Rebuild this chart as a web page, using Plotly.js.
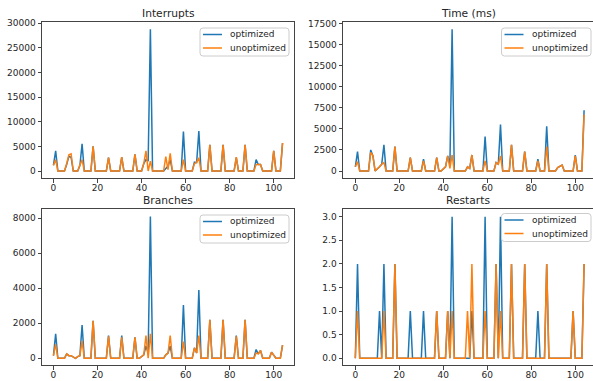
<!DOCTYPE html>
<html>
<head>
<meta charset="utf-8">
<script src="https://cdn.plot.ly/plotly-3.0.1.min.js"></script>
<style>html,body{margin:0;padding:0;background:#fff;}#chart{width:593px;height:381px;}</style>
</head>
<body>
<div id="chart"></div>
<script>
// ---- data (index 0..104 is implicit) ----
const panelTitles = ["Interrupts", "Time (ms)", "Branches", "Restarts"];
const seriesNames = ["optimized", "unoptimized"];

const interruptsOpt = [1200,4100,0,0,0,0,1300,3000,2800,0, 0,0,1100,5500,0,0,0,0,5000,0, 0,0,0,0,0,2700,0,0,0,0, 0,2800,0,0,0,0,0,3400,0,0, 0,1500,2300,2000,28800,0,0,0,0,0, 0,500,1000,2300,0,0,0,0,0,8000, 0,0,0,0,1800,1700,8100,0,0,0, 0,5300,0,0,0,0,0,5300,0,0, 0,0,0,2700,0,0,0,5300,0,0, 0,0,2300,1300,1300,0,0,0,0,0, 4100,0,0,0,5700];
const interruptsUnopt = [1100,2300,0,0,0,0,1500,3300,3500,0, 0,0,1200,2300,0,0,0,0,5000,0, 0,0,0,0,0,2700,0,0,0,0, 0,2800,0,0,0,0,0,3400,0,0, 0,1500,4100,0,2000,0,0,0,0,0, 0,2900,300,3600,0,0,0,0,0,2300, 0,0,0,0,1500,1800,2700,0,0,0, 0,5300,0,0,0,0,0,5300,0,0, 0,0,0,2800,0,0,0,5300,0,0, 0,0,1300,1300,1300,0,0,0,0,0, 4100,0,0,0,5700];

const timeOpt = [500,2300,0,0,0,0,0,2500,1800,0, 200,500,800,3100,0,0,0,0,2900,0, 0,0,0,0,0,1600,0,0,0,0, 0,1400,0,0,0,0,0,1600,0,0, 200,500,1800,800,16800,0,0,0,0,0, 0,500,300,1900,0,0,0,0,0,4100, 0,0,0,0,1000,800,5500,0,0,0, 0,3100,0,0,0,0,0,2300,0,0, 0,0,0,1400,0,0,0,5300,0,0, 0,0,400,600,700,0,0,0,0,0, 1900,0,0,0,7200];
const timeUnopt = [500,1100,0,0,0,0,0,2200,1800,0, 200,500,800,1000,0,0,0,0,2900,0, 0,0,0,0,0,1600,0,0,0,0, 0,1200,0,0,0,0,0,1600,0,0, 200,500,1800,300,1900,0,0,0,0,0, 0,500,300,1900,0,0,0,0,0,1200, 0,0,0,0,1000,800,1800,0,0,0, 0,3100,0,0,0,0,0,2300,0,0, 0,0,0,1200,0,0,0,2900,0,0, 0,0,400,600,700,0,0,0,0,0, 1800,0,0,0,6700];

const branchesOpt = [150,1400,0,0,0,0,250,150,150,50, 0,100,150,1900,0,0,0,0,2150,0, 0,0,0,0,0,1300,0,0,0,0, 0,1300,0,0,0,0,0,1200,0,0, 100,200,700,300,8100,0,0,0,0,0, 0,200,300,700,0,0,0,0,0,3050, 0,0,0,0,600,300,3900,0,0,0, 0,2200,0,0,0,0,0,2200,0,0, 0,0,0,1300,0,0,0,2200,0,0, 0,0,500,250,450,0,0,0,0,350, 150,0,0,0,750];
const branchesUnopt = [150,800,0,0,0,0,250,150,150,50, 0,100,150,1000,0,0,0,0,2150,0, 0,0,0,0,0,1250,0,0,0,0, 0,1200,0,0,0,0,0,1200,0,0, 100,200,1300,0,1400,0,0,0,0,0, 0,200,300,1300,0,0,0,0,0,950, 0,0,0,0,600,300,1300,0,0,0, 0,2200,0,0,0,0,0,2200,0,0, 0,0,0,1250,0,0,0,2200,0,0, 0,0,300,250,450,0,0,0,0,350, 150,0,0,0,750];

const restartsOpt = [0,2,0,0,0,0,0,0,0,0, 0,1,0,2,0,0,0,0,2,0, 0,0,0,0,0,1,0,0,0,0, 0,1,0,0,0,0,0,1,0,0, 0,0,1,0,3,0,0,0,0,0, 0,0,0,1,0,0,0,0,0,3, 0,0,0,0,2,0,3,0,0,0, 0,2,0,0,0,0,0,2,0,0, 0,0,0,1,0,0,0,2,0,0, 0,0,0,0,0,0,0,0,0,1, 0,0,0,0,2];
const restartsUnopt = [0,1,0,0,0,0,0,0,0,0, 0,0,0,1,0,0,0,0,2,0, 0,0,0,0,0,0,0,0,0,0, 0,0,0,0,0,0,0,1,0,0, 0,0,1,0,1,0,0,0,0,0, 0,1,0,2,0,0,0,0,0,1, 0,0,0,0,2,0,1,0,0,0, 0,2,0,0,0,0,0,2,0,0, 0,0,0,0,0,0,0,2,0,0, 0,0,0,0,0,0,0,0,0,1, 0,0,0,0,2];

const xTicks = [0, 20, 40, 60, 80, 100];
const yTicks = [
  [0, 5000, 10000, 15000, 20000, 25000, 30000],
  [0, 2500, 5000, 7500, 10000, 12500, 15000, 17500],
  [0, 2000, 4000, 6000, 8000],
  [0, 0.5, 1.0, 1.5, 2.0, 2.5, 3.0]
];

// ---- layout ----
const W = 593, H = 381;
const COLORS = ["#1f77b4", "#ff7f0e"];
const FONT = "DejaVu Sans, sans-serif";
const TXT = "#262626";
const TICK_SIZE = 9, TITLE_SIZE = 10.7, LEG_SIZE = 9;

const boxes = [
  {l: 42, r: 294, t: 22, b: 178, xr: [-5.2, 109.2], yr: [-1420, 30265]},
  {l: 343, r: 593, t: 22, b: 178, xr: [-5.6, 108.05], yr: [-830, 17676]},
  {l: 42, r: 294, t: 209, b: 365, xr: [-5.2, 109.2], yr: [-383, 8531]},
  {l: 343, r: 593, t: 209, b: 365, xr: [-5.6, 108.05], yr: [-0.142, 3.163]}
];
// legend boxes in pixels (left, top, right, bottom)
const legendBoxes = [
  {l: 200, t: 28, r: 289, b: 56},
  {l: 501.5, t: 28, r: 591, b: 56},
  {l: 200, t: 215, r: 289, b: 243},
  {l: 501.5, t: 213.5, r: 591, b: 241.5}
];

const series = [
  [interruptsOpt, interruptsUnopt],
  [timeOpt, timeUnopt],
  [branchesOpt, branchesUnopt],
  [restartsOpt, restartsUnopt]
];

const px = x => x / W;
const py = y => (H - y) / H;

const traces = [];
const layout = {
  width: W, height: H,
  margin: {l: 0, r: 0, t: 0, b: 0},
  paper_bgcolor: "#fff", plot_bgcolor: "#fff",
  font: {family: FONT, size: TICK_SIZE, color: TXT},
  showlegend: false,
  annotations: [],
  shapes: []
};

function roundRect(l, t, r, b, rad) {
  const rx = rad / W, ry = rad / H;
  const x0 = px(l), x1 = px(r), yT = py(t), yB = py(b);
  return `M ${x0 + rx},${yT} L ${x1 - rx},${yT} Q ${x1},${yT} ${x1},${yT - ry} ` +
         `L ${x1},${yB + ry} Q ${x1},${yB} ${x1 - rx},${yB} L ${x0 + rx},${yB} ` +
         `Q ${x0},${yB} ${x0},${yB + ry} L ${x0},${yT - ry} Q ${x0},${yT} ${x0 + rx},${yT} Z`;
}

series.forEach((pair, k) => {
  const sfx = k === 0 ? "" : String(k + 1);
  pair.forEach((ys, s) => {
    traces.push({
      type: "scatter", mode: "lines",
      y: ys,
      name: seriesNames[s],
      xaxis: "x" + sfx, yaxis: "y" + sfx,
      line: {color: COLORS[s], width: 1.5},
      hoverinfo: "skip"
    });
  });
  const b = boxes[k];
  const axCommon = {
    showgrid: false, zeroline: false, showline: true, mirror: true,
    linecolor: "#444", linewidth: 1,
    ticks: "outside", ticklen: 3.5, tickwidth: 1, tickcolor: "#444",
    tickfont: {family: FONT, size: TICK_SIZE, color: TXT},
    fixedrange: true
  };
  layout["xaxis" + sfx] = Object.assign({}, axCommon, {
    domain: [b.l / W, b.r / W], range: b.xr,
    anchor: "y" + sfx, tickmode: "array", tickvals: xTicks,
    ticklabelstandoff: -2
  });
  layout["yaxis" + sfx] = Object.assign({}, axCommon, {
    domain: [(H - b.b) / H, (H - b.t) / H], range: b.yr,
    anchor: "x" + sfx, tickmode: "array", tickvals: yTicks[k],
    ticktext: k === 3 ? yTicks[k].map(v => v.toFixed(1)) : yTicks[k].map(String),
    ticklabelstandoff: 0
  });
  layout.annotations.push({
    text: panelTitles[k], showarrow: false,
    xref: "paper", yref: "paper",
    x: px((b.l + b.r) / 2), y: py(b.t),
    xanchor: "center", yanchor: "bottom", yshift: 0,
    font: {family: FONT, size: TITLE_SIZE, color: TXT}
  });

  // legend (drawn like matplotlib's)
  const lb = legendBoxes[k];
  layout.shapes.push({
    type: "path", xref: "paper", yref: "paper",
    path: roundRect(lb.l, lb.t, lb.r, lb.b, 3),
    fillcolor: "rgba(255,255,255,0.8)",
    line: {color: "#cccccc", width: 1}
  });
  seriesNames.forEach((nm, s) => {
    const cy = lb.t + 6.5 + s * 13.5;
    layout.shapes.push({
      type: "line", xref: "paper", yref: "paper",
      x0: px(lb.l + 3), x1: px(lb.l + 22), y0: py(cy), y1: py(cy),
      line: {color: COLORS[s], width: 1.5}
    });
    layout.annotations.push({
      text: nm, showarrow: false, xref: "paper", yref: "paper",
      x: px(lb.l + 28), y: py(cy), xanchor: "left", yanchor: "middle",
      font: {family: FONT, size: LEG_SIZE, color: TXT}
    });
  });
});

Plotly.newPlot("chart", traces, layout, {staticPlot: true, displayModeBar: false});
</script>
</body>
</html>
